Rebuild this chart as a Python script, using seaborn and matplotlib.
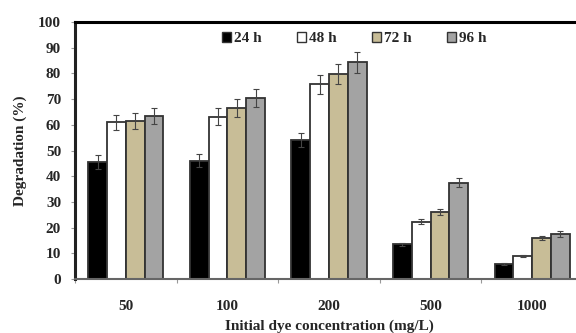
import matplotlib
matplotlib.use("Agg")
import matplotlib.pyplot as plt
import seaborn as sns
import pandas as pd
import numpy as np
from matplotlib.patches import Patch

concentrations = ["50", "100", "200", "500", "1000"]
times = ["24 h", "48 h", "72 h", "96 h"]
deg_24 = [45.5, 46.0, 54.0, 13.5, 6.0]
deg_48 = [61.0, 63.2, 75.7, 22.3, 8.8]
deg_72 = [61.5, 66.4, 79.8, 26.2, 15.8]
deg_96 = [63.5, 70.3, 84.3, 37.5, 17.5]
err_24 = [2.8, 2.6, 2.8, 0.6, 0.4]
err_48 = [3.0, 3.2, 3.8, 1.0, 0.4]
err_72 = [3.2, 3.5, 4.0, 1.2, 0.8]
err_96 = [3.2, 3.5, 4.0, 1.8, 1.0]
colors = ["#000000", "#ffffff", "#c8bd97", "#a3a3a3"]

vals = [deg_24, deg_48, deg_72, deg_96]
errs = [err_24, err_48, err_72, err_96]
rows = []
for t, v, e in zip(times, vals, errs):
    for c, vv, ee in zip(concentrations, v, e):
        rows.append({"conc": c, "time": t, "deg": vv, "err": ee})
df = pd.DataFrame(rows)

sns.set_theme(style="white")
plt.rcParams["font.family"] = ["Liberation Serif", "DejaVu Serif"]
plt.rcParams["font.weight"] = "bold"

FS = 11
fig = plt.figure(figsize=(5.76, 3.33), dpi=100)
ax = fig.add_axes([75 / 576, 1 - 279 / 333, (583 - 75) / 576, (279 - 22) / 333])

sns.barplot(data=df, x="conc", y="deg", hue="time", order=concentrations,
            hue_order=times, palette=colors, width=0.74, gap=0,
            edgecolor="#333333", linewidth=1.3, errorbar=None, ax=ax,
            legend=False, saturation=1)

for i, t in enumerate(times):
    cont = ax.containers[i]
    xs = [p.get_x() + p.get_width() / 2 for p in cont.patches]
    ax.errorbar(xs, vals[i], yerr=errs[i], fmt="none", ecolor="#444444",
                elinewidth=0.8, capsize=2, capthick=0.8)

ax.set_xlim(-0.5, 4.5)
ax.set_ylim(0, 100)
ax.set_yticks(range(0, 101, 10))
ax.set_xlabel("Initial dye concentration (mg/L)", fontsize=FS, fontweight="bold", labelpad=5)
ax.set_ylabel("Degradation (%)", fontsize=FS, fontweight="bold", labelpad=8)
ax.tick_params(axis="y", labelsize=FS, length=3, width=0.8, color="#999999",
               direction="out", left=True, pad=7)
ax.tick_params(axis="x", labelsize=FS, length=0, pad=15)
for lab in ax.get_xticklabels() + ax.get_yticklabels():
    lab.set_fontweight("bold")

# minor ticks at category boundaries
ax.set_xticks(np.arange(-0.5, 4.6, 1), minor=True)
ax.tick_params(axis="x", which="minor", length=3, width=0.8, color="#999999", bottom=True)

ax.spines["top"].set_linewidth(2.2)
ax.spines["top"].set_color("black")
ax.spines["left"].set_linewidth(2.2)
ax.spines["left"].set_color("#222222")
ax.spines["bottom"].set_linewidth(1.5)
ax.spines["bottom"].set_color("#666666")
ax.spines["right"].set_visible(False)

handles = [Patch(facecolor=c, edgecolor="#333333", linewidth=1.0) for c in colors]
leg = ax.legend(handles, times, loc="upper left", bbox_to_anchor=(0.262, 1.015),
                ncol=4, frameon=False, handlelength=0.6, handleheight=0.6,
                handletextpad=0.2, columnspacing=2.3,
                prop={"weight": "bold", "size": FS})

fig.savefig("out.png", dpi=100)
